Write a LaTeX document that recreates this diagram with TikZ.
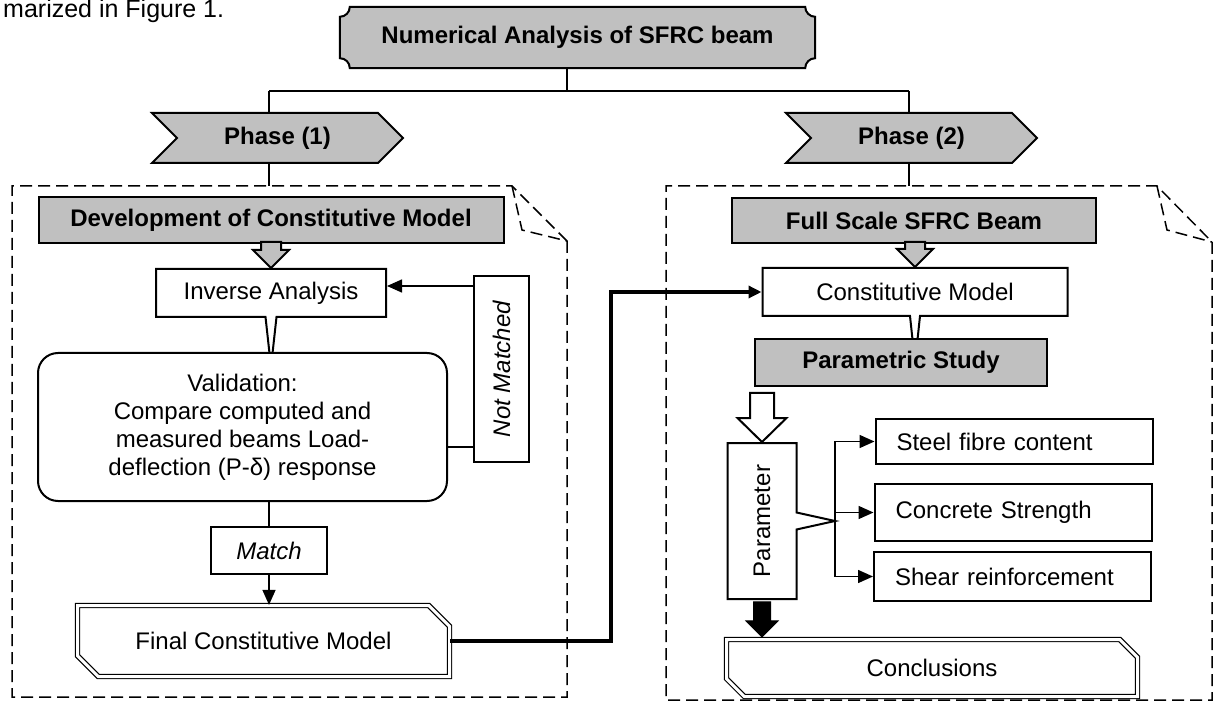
\documentclass[tikz,border=0pt]{standalone}
\usepackage{fontspec}
\setmainfont{Liberation Sans}
\usepackage{graphicx}
\usepackage{tikz}
\usetikzlibrary{positioning, calc, arrows.meta, shapes.misc, shapes.symbols, shapes.callouts, backgrounds}

\definecolor{boxgray}{RGB}{192,192,192}
\newcommand{\boxfont}{\fontsize{24}{28}\selectfont}

\begin{document}
\begin{tikzpicture}[x=1pt, y=1pt,
    box/.style={draw, line width=2pt, fill=white, inner sep=0pt, font=\boxfont},
    graybox/.style={box, fill=boxgray, font=\boxfont\bfseries},
    phase/.style={graybox, signal, signal from=west, signal to=east, signal pointer angle=90, minimum height=50pt, minimum width=251pt},
    sidebox/.style={box, text width=235pt, align=left, inner xsep=21pt},
    finalbox/.style={box, chamfered rectangle, chamfered rectangle corners={north east, south west}, double, double distance=3pt, line width=1.2pt},
    notefold/.style={line width=1.5pt, dash pattern=on 12pt off 6pt},
    wire/.style={line width=1.5pt},
    arrowed/.style={-{Triangle[length=15pt, width=13pt]}}]

        \useasboundingbox (0,0) rectangle (1217,702);

        % ===================================================
        % Dashed frames of the two phases
        % ===================================================
        \draw[notefold] (567,461) -- (567,5) -- (12,5) -- (12,516) -- (512,516) -- cycle;
        \draw[notefold] (512,516) -- (522,472) -- (567,461);
        \draw[notefold] (1212,460) -- (1212,2) -- (666,2) -- (666,516) -- (1157,516) -- cycle;
        \draw[notefold] (1157,516) -- (1167,472) -- (1212,460);
        \coordinate (ltop) at (12,516);

        % ===================================================
        % Page text and title
        % ===================================================
        \node[anchor=base west, inner sep=0pt, font=\fontsize{25}{30}\selectfont] (caption) at (3,684) {marized in Figure 1.};
        \node[font=\boxfont\bfseries, minimum width=475pt, minimum height=61pt, inner sep=0pt] (title) at (577.5,664.5) {Numerical Analysis of SFRC beam};
        \begin{scope}[on background layer]
            \draw[line width=2pt, fill=boxgray]
                ([xshift=10pt]title.north west) -- ([xshift=-10pt]title.north east)
                arc[start angle=180, end angle=270, radius=10pt]
                -- ([yshift=10pt]title.south east)
                arc[start angle=90, end angle=180, radius=10pt]
                -- ([xshift=10pt]title.south west)
                arc[start angle=0, end angle=90, radius=10pt]
                -- ([yshift=-10pt]title.north west)
                arc[start angle=270, end angle=360, radius=10pt] -- cycle;
        \end{scope}

        \node[phase] (ph1) at (277.5,564) {Phase (1)};
        \node[phase] (ph2) at (911.5,564) {Phase (2)};

        % ===================================================
        % Phase (1)
        % ===================================================
        \node[graybox, minimum width=465pt, minimum height=46pt] (dev) at (271,482) {Development of Constitutive Model};
        \node[box, rectangle callout, callout relative pointer={(0,-50)}, callout pointer width=11pt,
              minimum width=230pt, minimum height=48pt] (inv) at (271,409) {Inverse Analysis};
        \node[box, rounded corners=20pt, align=center, minimum width=409pt, minimum height=148pt] (val) at (242.5,275)
            {Validation:\\Compare computed and\\measured beams Load-\\deflection (P-δ) response};
        \node[box, font=\boxfont\itshape, minimum width=55pt, minimum height=186pt] (nm) at (501.5,333) {\rotatebox{90}{Not Matched}};
        \node[box, font=\boxfont\itshape, minimum width=116pt, minimum height=47pt] (match) at (269,151.5) {Match};
        \node[finalbox, chamfered rectangle sep=12pt, minimum width=372pt, minimum height=71pt] (final) at (263.5,61) {Final Constitutive Model};

        % ===================================================
        % Phase (2)
        % ===================================================
        \coordinate (fork) at (835,189.5);
        \node[graybox, minimum width=364pt, minimum height=45pt] (fsb) at (914,481.5) {Full Scale SFRC Beam};
        \node[box, rectangle callout, callout relative pointer={(0,-47)}, callout pointer width=10pt,
              minimum width=305pt, minimum height=48pt] (cm) at (915,410) {Constitutive Model};
        \node[graybox, minimum width=292pt, minimum height=47pt] (ps) at (901,339.5) {Parametric Study};
        \node[box, rectangle callout, callout absolute pointer={(835,181)}, callout pointer width=17pt,
              minimum width=69pt, minimum height=156pt] (par) at (762,181) {\rotatebox{90}{Parameter}};
        \node[sidebox, minimum height=45pt] (steel) at (1014,260.5) {Steel fibre content};
        \node[sidebox, minimum height=57pt] (conc) at (1013,189.5) {Concrete Strength};
        \node[sidebox, minimum height=49pt] (shear) at (1012.5,125.5) {Shear reinforcement};
        \node[finalbox, chamfered rectangle sep=9pt, minimum width=411pt, minimum height=57pt] (concl) at (932,34) {Conclusions};

        % ===================================================
        % Tree from the title to the phases
        % ===================================================
        \coordinate (split) at (567,611);
        \coordinate (stem1) at (269,611);
        \coordinate (stem2) at (909,611);
        \draw[wire] (title.south -| split) -- (split);
        \draw[wire] (stem1) -- (stem2);
        \draw[wire] (stem1) -- (stem1 |- ph1.north);
        \draw[wire] (stem2) -- (stem2 |- ph2.north);
        \draw[wire] (stem1 |- ph1.south) -- (stem1 |- ltop);
        \draw[wire] (stem2 |- ph2.south) -- (stem2 |- ltop);

        % ===================================================
        % Block arrows
        % ===================================================
        \coordinate (blk) at (par.south |- concl.north);
        \draw[line width=2pt, fill=boxgray] (inv.north) -- ++(-18,18) -- ++(8,0) -- ++(0,8) -- ++(20,0) -- ++(0,-8) -- ++(8,0) -- cycle;
        \draw[line width=2pt, fill=boxgray] (cm.north) -- ++(-18,18) -- ++(8,0) -- ++(0,7) -- ++(20,0) -- ++(0,-7) -- ++(8,0) -- cycle;
        \draw[line width=2pt, fill=white] (par.north) -- ++(-24.5,24) -- ++(12.5,0) -- ++(0,25) -- ++(24,0) -- ++(0,-25) -- ++(12.5,0) -- cycle;
        \draw[line width=1pt, fill=black] ([yshift=2pt]blk) -- ++(-16,16) -- ++(7.5,0) -- ++(0,19) -- ++(17,0) -- ++(0,-19) -- ++(7.5,0) -- cycle;

        % ===================================================
        % Connectors
        % ===================================================
        \coordinate (nmhi) at ([yshift=-11pt]nm.north west);
        \coordinate (nmlo) at ([yshift=16pt]nm.south west);
        \draw[wire, arrowed] (nmhi) -- (nmhi -| inv.east);
        \draw[wire] (nmlo) -- (nmlo -| val.east);
        \draw[wire] (match.north) -- (match.north |- val.south);
        \draw[wire, arrowed] (match.south) -- (match.south |- final.north);

        \coordinate (bend) at (611,0);
        \draw[line width=4.5pt, -{Triangle[length=13pt, width=12pt]}] (final.east) -| (bend |- cm.west) -- (cm.west);

        \draw[wire, arrowed] (fork) |- (steel.west);
        \draw[wire, arrowed] (fork) -- (conc.west);
        \draw[wire, arrowed] (fork) |- (shear.west);

    \end{tikzpicture}
\end{document}
